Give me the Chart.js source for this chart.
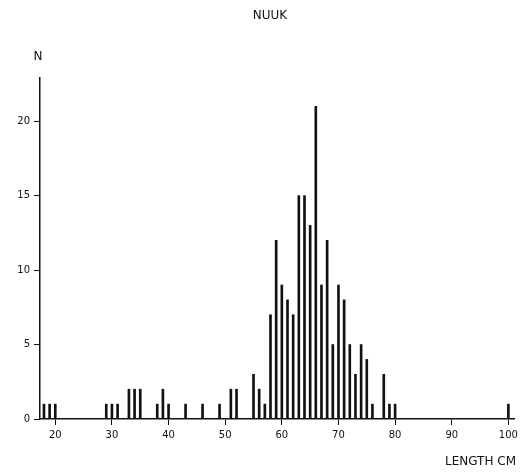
<!DOCTYPE html>
<html>
<head>
<meta charset="utf-8">
<script src="https://cdn.jsdelivr.net/npm/chart.js@4"></script>
<style>
  html, body { margin: 0; padding: 0; background: #fff; }
  #wrap { width: 522px; height: 474px; position: relative; }
</style>
</head>
<body>
<div id="wrap"><canvas id="lenChart" width="522" height="474"></canvas></div>
<script>
// ── Data ────────────────────────────────────────────────────
const lengths = [18,19,20,29,30,31,33,34,35,38,39,40,43,46,49,51,52,55,56,57,
                 58,59,60,61,62,63,64,65,66,67,68,69,70,71,72,73,74,75,76,78,79,80,100];
const counts  = [1,1,1,1,1,1,2,2,2,1,2,1,1,1,1,2,2,3,2,1,
                 7,12,9,8,7,15,15,13,21,9,12,5,9,8,5,3,5,4,1,3,1,1,1];
const xTicks = [20,30,40,50,60,70,80,90,100];
const yTicks = [0,5,10,15,20];

Chart.defaults.font.family = "'DejaVu Sans', sans-serif";
Chart.defaults.color = '#111';

// texts drawn on the canvas: title, axis names
const labelsPlugin = {
  id: 'labels',
  afterDraw(chart) {
    const ctx = chart.ctx;
    ctx.save();
    ctx.fillStyle = '#111';
    ctx.textBaseline = 'middle';
    ctx.font = "12px 'DejaVu Sans', sans-serif";
    ctx.textAlign = 'center';
    ctx.fillText('NUUK', 270, 16);
    ctx.fillText('N', 38, 57);
    ctx.textAlign = 'right';
    ctx.fillText('LENGTH CM', 516, 462);
    ctx.restore();
  }
};

new Chart(document.getElementById('lenChart'), {
  type: 'bar',
  data: {
    datasets: [{
      data: lengths.map((l, i) => ({ x: l, y: counts[i] })),
      backgroundColor: '#111',
      barThickness: 2,
      borderWidth: 0
    }]
  },
  options: {
    responsive: false, animation: false,
    layout: { padding: { top: 78, right: 7, left: 0, bottom: 0 } },
    plugins: { legend: { display: false }, tooltip: { enabled: false } },
    scales: {
      x: {
        type: 'linear', min: 17.3, max: 101, offset: false,
        afterBuildTicks: s => { s.ticks = xTicks.map(v => ({ value: v })); },
        afterFit: s => { s.height = 55; },
        grid: { offset: false, drawOnChartArea: false, drawTicks: true, tickLength: 6, color: '#111' },
        border: { color: '#111', width: 1.5 },
        ticks: { font: { size: 10 }, padding: 4, maxRotation: 0 }
      },
      y: {
        min: 0, max: 22.9,
        afterBuildTicks: s => { s.ticks = yTicks.map(v => ({ value: v })); },
        afterFit: s => { s.width = 40; },
        grid: { drawOnChartArea: false, drawTicks: true, tickLength: 6, color: '#111' },
        border: { color: '#111', width: 1.5 },
        ticks: { font: { size: 10 }, padding: 4 }
      }
    }
  },
  plugins: [labelsPlugin]
});
</script>
</body>
</html>
